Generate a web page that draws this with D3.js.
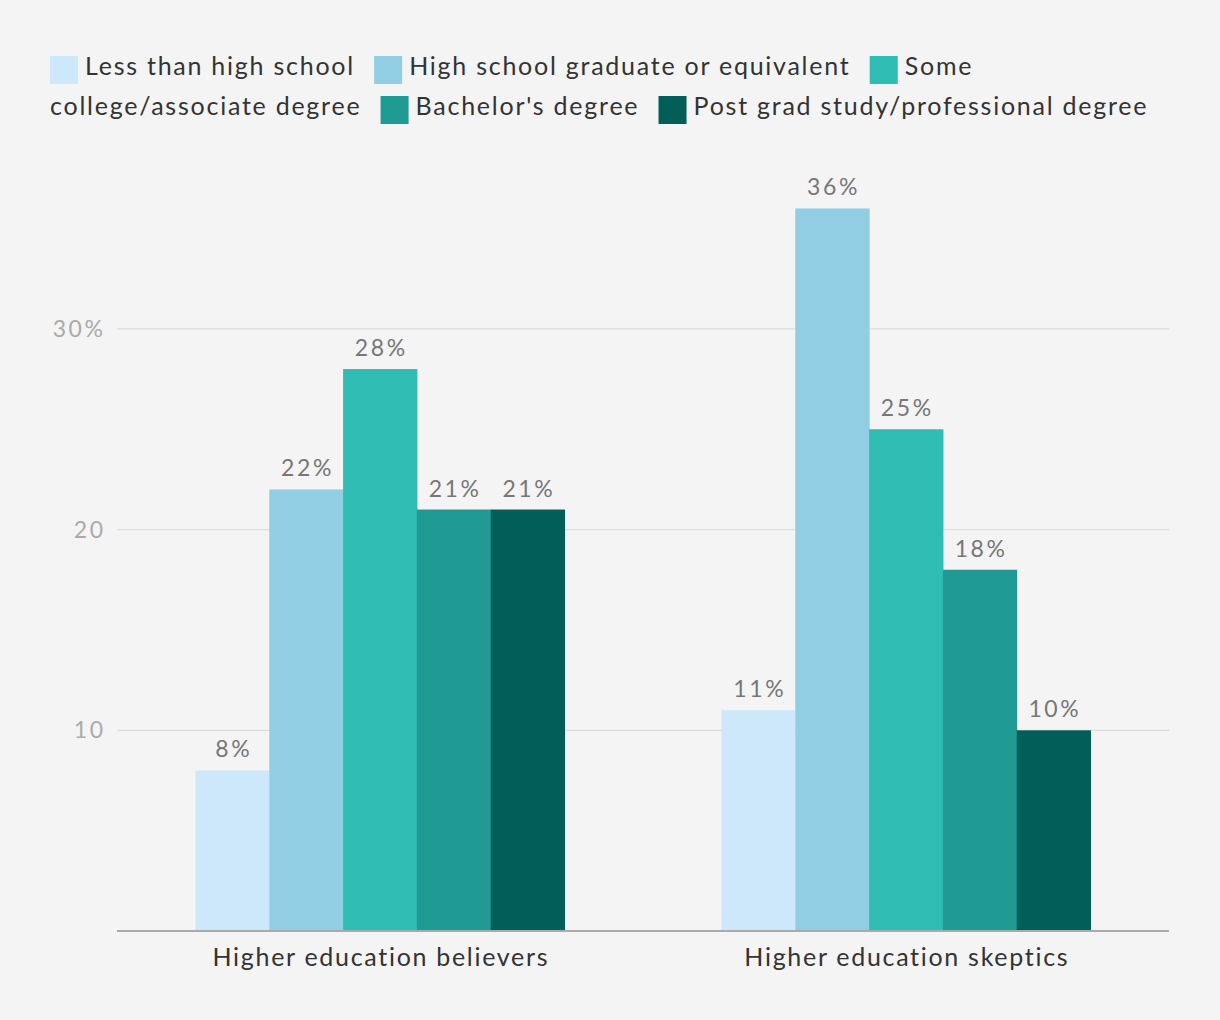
<!DOCTYPE html>
<html><head><meta charset="utf-8">
<script src="https://cdn.jsdelivr.net/npm/d3@7"></script>
<style>html,body{margin:0;padding:0;background:#f4f4f4;}svg{display:block;}</style>
</head><body>
<script>
const categories = ["Higher education believers", "Higher education skeptics"];
const seriesNames = ["Less than high school", "High school graduate or equivalent", "Some college/associate degree", "Bachelor's degree", "Post grad study/professional degree"];
const colors = ["#cde8fb", "#91cde3", "#2ebcb3", "#1f9b93", "#015f57"];
const believers = [8, 22, 28, 21, 21];
const skeptics = [11, 36, 25, 18, 10];
const yTicks = [10, 20, 30];
const yTickLabels = ["10", "20", "30%"];

(function () {
const W = 1220, H = 1020;
const font = "Lato, 'Noto Sans', sans-serif";
const svg = d3.select("body").append("svg").attr("width", W).attr("height", H);
svg.append("rect").attr("width", W).attr("height", H).attr("fill", "#f4f4f4");

const pl = 117, pr = 1169, pb = 931;
const y = d3.scaleLinear().domain([0, 39.9]).range([pb, pb - 39.9 * 20.07]);
const x0 = d3.scaleBand().domain(categories).range([pl, pr]).padding(0);
const x1 = d3.scaleBand().domain(seriesNames).range([0, x0.bandwidth()]).paddingInner(0).paddingOuter(1.064);

svg.append("g").selectAll("line").data(yTicks).join("line")
  .attr("x1", pl).attr("x2", pr)
  .attr("y1", d => y(d)).attr("y2", d => y(d))
  .attr("stroke", "#dddddd").attr("stroke-width", 1.3);

const numLS = 2.6;
svg.append("g").selectAll("text").data(yTicks).join("text")
  .attr("x", 103 + numLS).attr("y", d => y(d)).attr("dy", "0.35em")
  .attr("text-anchor", "end").attr("fill", "#aaaaaa")
  .style("font-family", font).style("font-size", "23px").style("letter-spacing", numLS + "px")
  .text((d, i) => yTickLabels[i]);

const data = [believers, skeptics];
const groups = svg.append("g").selectAll("g").data(categories).join("g")
  .attr("transform", d => `translate(${x0(d)},0)`);
groups.selectAll("rect").data((c, gi) => data[gi].map((v, i) => ({v, s: seriesNames[i], i})))
  .join("rect")
  .attr("x", d => x1(d.s)).attr("width", x1.bandwidth() + 0.5)
  .attr("y", d => y(d.v)).attr("height", d => y(0) - y(d.v))
  .attr("fill", d => colors[d.i]);
groups.selectAll("text").data((c, gi) => data[gi].map((v, i) => ({v, s: seriesNames[i], i})))
  .join("text")
  .attr("x", d => x1(d.s) + x1.bandwidth() / 2 + numLS / 2)
  .attr("y", d => y(d.v) - 13)
  .attr("text-anchor", "middle").attr("fill", "#777777")
  .style("font-family", font).style("font-size", "23px").style("letter-spacing", numLS + "px")
  .text(d => d.v + "%");

svg.append("line").attr("x1", pl).attr("x2", pr).attr("y1", pb).attr("y2", pb)
  .attr("stroke", "#aaaaaa").attr("stroke-width", 2);

svg.append("g").selectAll("text").data(categories).join("text")
  .attr("x", d => x0(d) + x0.bandwidth() / 2 + 0.85).attr("y", 957).attr("dy", "0.35em")
  .attr("text-anchor", "middle").attr("fill", "#333333")
  .style("font-family", font).style("font-size", "25px").style("letter-spacing", "1.7px")
  .text(d => d);

const lg = svg.append("g");
const lfs = 25, lls = 1.75;
const meas = svg.append("text").style("font-family", font).style("font-size", lfs + "px").style("letter-spacing", lls + "px");
function tw(t) { meas.text(t); return meas.node().getBBox().width; }
function addText(x, yy, t) {
  lg.append("text").attr("x", x).attr("y", yy)
    .attr("fill", "#333333").style("font-family", font).style("font-size", lfs + "px")
    .style("letter-spacing", lls + "px").text(t);
}
let cx = 50, row = 0;
const baseY = [75, 115, 155], swY = [56, 96, 136], maxX = 1172;
seriesNames.forEach((name, i) => {
  if (cx + 28 + 7 + tw(name.split(" ")[0]) > maxX) { row++; cx = 50; }
  lg.append("rect").attr("x", cx).attr("y", swY[row]).attr("width", 28).attr("height", 28).attr("fill", colors[i]);
  cx += 28 + 7;
  const words = name.split(" ");
  let line = "";
  let startX = cx;
  words.forEach((w) => {
    const cand = line ? line + " " + w : w;
    if (startX + tw(cand) > maxX && line) {
      addText(startX, baseY[row], line);
      row++; startX = 50; line = w;
    } else line = cand;
  });
  addText(startX, baseY[row], line);
  cx = startX + tw(line) - lls + 21;
});
meas.remove();
})();
</script>
</body></html>
